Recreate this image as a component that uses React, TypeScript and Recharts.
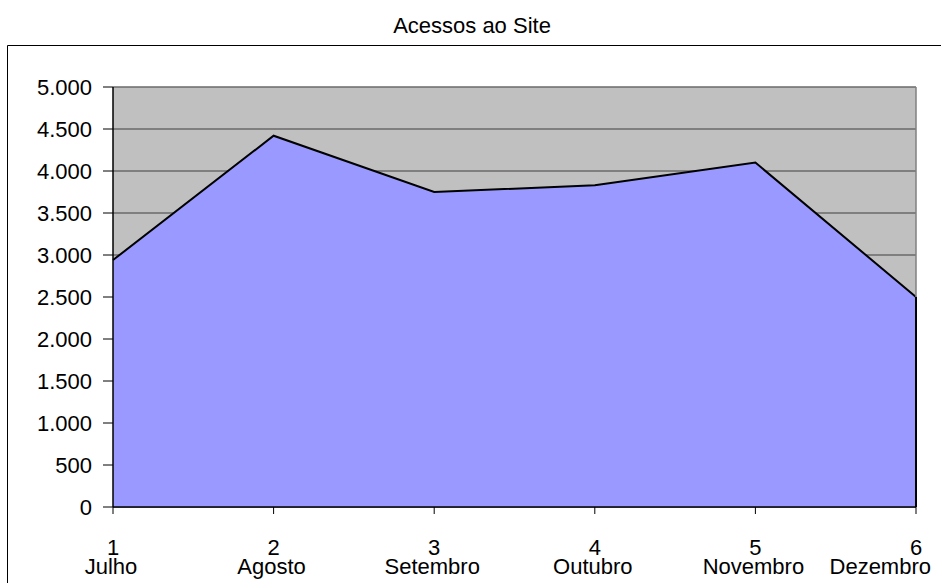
import React from 'react';
import { AreaChart, Area, XAxis, YAxis, CartesianGrid, ReferenceLine } from 'recharts';

const positions = ['1', '2', '3', '4', '5', '6'];
const months = ['Julho', 'Agosto', 'Setembro', 'Outubro', 'Novembro', 'Dezembro'];
const acessos = [2940, 4420, 3750, 3830, 4100, 2500];
const yTicks = [0, 500, 1000, 1500, 2000, 2500, 3000, 3500, 4000, 4500, 5000];
const title = 'Acessos ao Site';

const data = positions.map((p, i) => ({ n: p, mes: months[i], v: acessos[i] }));

const FONT = '"Liberation Sans", Arial, sans-serif';

const fmt = (v: number) => String(v).replace(/\B(?=(\d{3})+(?!\d))/g, '.');

const XTick = (props: any) => {
  const { x, y, payload, index } = props;
  const last = index === positions.length - 1;
  return (
    <g>
      <text x={x} y={y} dy={39} textAnchor="middle" fontSize={22} fill="#000" fontFamily={FONT}>
        {payload.value}
      </text>
      <text
        x={last ? x + 15 : x - 2}
        y={y}
        dy={58}
        textAnchor={last ? 'end' : 'middle'}
        fontSize={22}
        fill="#000"
        fontFamily={FONT}
      >
        {months[index]}
      </text>
    </g>
  );
};

export default function App() {
  const lastN = positions[positions.length - 1];
  const lastV = acessos[acessos.length - 1];
  return (
    <div style={{ position: 'absolute', left: 0, top: 0, width: 941, height: 583, overflow: 'hidden', background: '#fff', fontFamily: FONT }}>
      <svg width={941} height={583} style={{ position: 'absolute', left: 0, top: 0 }}>
        <line x1={7.5} y1={45.5} x2={941} y2={45.5} stroke="#000" strokeWidth={1} />
        <line x1={7.5} y1={45.5} x2={7.5} y2={583} stroke="#000" strokeWidth={1} />
        <text x={472} y={33} textAnchor="middle" fontSize={22} fill="#000" fontFamily={FONT}>
          {title}
        </text>
      </svg>
      <div style={{ position: 'absolute', left: 0, top: 0 }}>
        <AreaChart width={941} height={583} data={data} margin={{ top: 87, right: 25, bottom: 0, left: 0 }}>
          <CartesianGrid horizontal vertical={false} fill="#C0C0C0" stroke="#6a6a6a" strokeWidth={1.5} />
          <XAxis
            dataKey="n"
            height={76}
            tick={<XTick />}
            tickSize={7}
            interval={0}
            axisLine={{ stroke: '#000', strokeWidth: 1.5 }}
            tickLine={{ stroke: '#000' }}
          />
          <YAxis
            width={113}
            domain={[0, 5000]}
            ticks={yTicks}
            interval={0}
            tickFormatter={fmt}
            tickSize={10}
            tickMargin={11}
            tick={{ fontSize: 22, fill: '#000', fontFamily: FONT }}
            axisLine={{ stroke: '#000', strokeWidth: 1.5 }}
            tickLine={{ stroke: '#000' }}
          />
          <Area
            type="linear"
            dataKey="v"
            fill="#9999FF"
            fillOpacity={1}
            stroke="#000"
            strokeWidth={2}
            isAnimationActive={false}
            dot={false}
            activeDot={false}
          />
          <ReferenceLine x={lastN} stroke="#808080" strokeWidth={1.5} />
          <ReferenceLine segment={[{ x: lastN, y: 0 }, { x: lastN, y: lastV }]} stroke="#000" strokeWidth={2} />
        </AreaChart>
      </div>
    </div>
  );
}
